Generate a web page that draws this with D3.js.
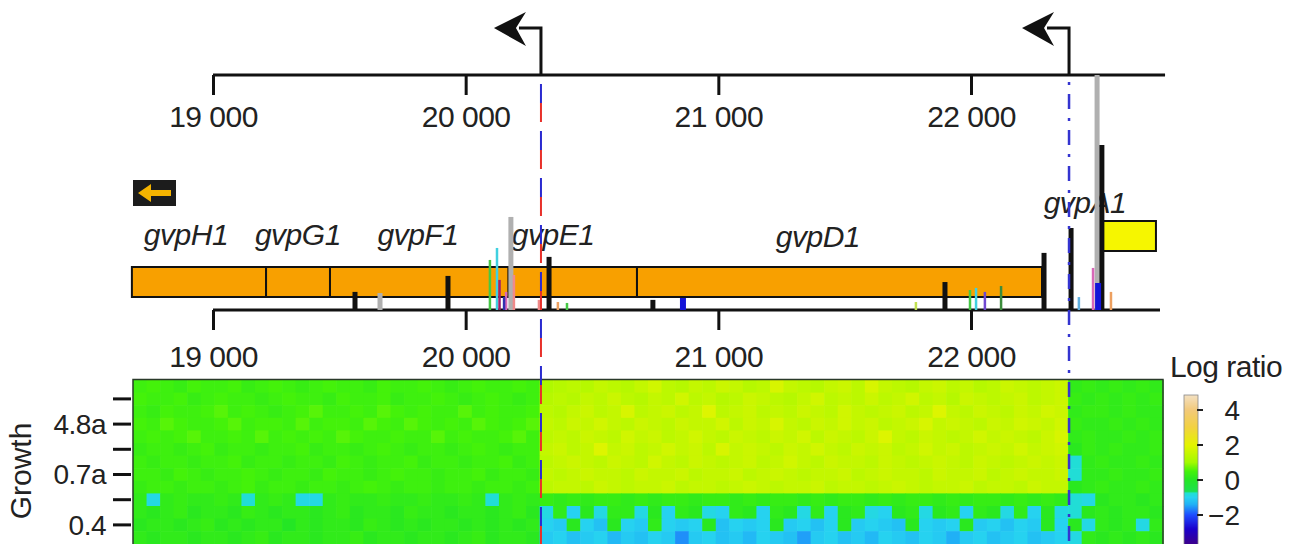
<!DOCTYPE html>
<html>
<head>
<meta charset="utf-8">
<script src="https://cdn.jsdelivr.net/npm/d3@7"></script>
<style>
  body { margin: 0; background: #fff; }
  svg { display: block; font-family: "Liberation Sans", Arial, Helvetica, sans-serif; }
  .axis path, .axis line { stroke: #111; stroke-width: 3; }
  .axis text { font-size: 30px; fill: #222; letter-spacing: -0.5px; }
  .gene-label { font-size: 30px; font-style: italic; fill: #222; letter-spacing: -0.5px; }
</style>
</head>
<body>
<script>
(function() {
  // genome coordinates (bp)
  var axisTicks = [19000, 20000, 21000, 22000];
  var topAxisEnd = 22768, lowAxisEnd = 22748;
  var promoters = [20298, 22388];

  var genes = ['gvpH1', 'gvpG1', 'gvpF1', 'gvpE1', 'gvpD1'];
  var geneStart = [18679, 19210, 19463, 20170, 20678];
  var geneEnd = [19210, 19463, 20170, 20678, 22281];
  var labelPos = [18893, 19336, 19811, 20346, 21394];

  var fwdGene = 'gvpA1';
  var fwdStart = 22522, fwdEnd = 22732, fwdLabelPos = 22451;

  // read-start peaks: position, signal, sample
  var peakPos = [19562, 19661, 19930, 20096, 20124, 20134, 20152, 20160, 20179, 20191, 20290, 20330, 20365, 20401,
    20741, 20860, 21782, 21897, 21996, 22020, 22055, 22119, 22289, 22396, 22427, 22483, 22499, 22503, 22518, 22554];
  var peakVal = [7.7, 7.2, 14.5, 21.3, 26.4, 12.8, 5.5, 7.7, 39.6, 14.9, 4.3, 22.6, 3.4, 3.0,
    4.3, 5.1, 3.4, 11.9, 8.5, 9.4, 7.7, 10.2, 24.3, 34.9, 5.5, 17.9, 100, 11.5, 70.2, 7.7];
  var peakSample = ['S1', 'S2', 'S1', 'S3', 'S4', 'S5', 'S14', 'S6', 'S2', 'S8', 'S8', 'S1', 'S9', 'S3',
    'S1', 'S7', 'S10', 'S1', 'S3', 'S4', 'S11', 'S12', 'S1', 'S1', 'S13', 'S6', 'S2', 'S7', 'S1', 'S9'];
  var samples = ['S1', 'S2', 'S3', 'S4', 'S5', 'S6', 'S7', 'S8', 'S9', 'S10', 'S11', 'S12', 'S13', 'S14'];

  // heatmap: log ratio per growth row (13 rows x 76 columns)
  var growthTicks = [1, 3, 5, 7, 9, 11];
  var growthLabels = ['', '4.8a', '', '0.7a', '', '0.4'];
  var logRatio = [
    [0.4,0.5,0.4,0.3,0.5,0.4,0.4,0.5,0.3,0.4,0.5,0.4,0.3,0.4,0.5,0.4,0.4,0.3,0.5,0.4,0.4,0.5,0.4,0.3,0.4,0.5,0.4,0.4,0.5,0.4,
     1.2,1.3,1.4,1.3,1.5,1.4,1.3,1.5,1.7,1.4,1.3,1.5,1.4,1.6,1.5,1.3,1.4,1.8,1.5,1.4,1.3,1.5,1.6,1.4,1.8,1.5,1.4,1.3,1.5,1.6,1.4,1.5,1.3,1.4,1.6,1.5,1.4,1.5,1.6,
     0.2,0.3,0.2,0.3,0.2,0.3,0.2],
    [0.5,0.4,0.4,0.5,0.3,0.4,0.5,0.4,0.4,0.3,0.4,0.5,0.4,0.4,0.3,0.5,0.4,0.4,0.5,0.3,0.4,0.4,0.5,0.4,0.3,0.4,0.5,0.4,0.3,0.4,
     1.3,1.4,1.3,1.5,1.4,1.6,1.4,1.3,1.5,1.4,1.7,1.4,1.5,1.3,1.4,1.6,1.5,1.4,1.3,1.5,1.7,1.4,1.5,1.4,1.6,1.4,1.5,1.7,1.4,1.5,1.3,1.6,1.5,1.4,1.5,1.6,1.4,1.5,1.6,
     0.3,0.2,0.3,0.2,0.3,0.2,0.3],
    [0.4,0.3,0.5,0.4,0.4,0.5,0.6,0.4,0.5,0.4,0.3,0.4,0.5,0.6,0.4,0.4,0.5,0.4,0.6,0.5,0.4,0.5,0.4,0.4,0.6,0.4,0.5,0.4,0.4,0.5,
     1.4,1.3,1.5,1.6,1.4,1.5,1.8,1.4,1.5,1.6,1.4,1.5,1.9,1.4,1.5,1.6,1.4,1.5,1.4,1.6,1.5,1.4,1.7,1.5,1.4,1.5,1.6,1.4,1.5,1.9,1.5,1.4,1.6,1.5,1.4,1.6,1.5,1.7,1.6,
     0.2,0.3,0.3,0.2,0.3,0.2,0.2],
    [0.5,0.4,0.6,0.5,0.4,0.4,0.5,0.6,0.4,0.5,0.5,0.4,0.6,0.4,0.5,0.5,0.4,0.6,0.5,0.4,0.6,0.5,0.4,0.5,0.4,0.6,0.5,0.4,0.5,0.6,
     1.5,1.4,1.6,1.5,1.7,1.5,1.4,1.6,1.5,1.4,1.6,1.5,1.5,1.7,1.4,1.6,1.5,1.8,1.5,1.4,1.6,1.5,1.7,1.5,1.6,1.4,1.5,1.6,1.8,1.5,1.6,1.5,1.4,1.6,1.5,1.7,1.6,1.5,1.7,
     0.3,0.2,0.2,0.3,0.2,0.3,0.2],
    [0.4,0.5,0.4,0.5,0.6,0.4,0.4,0.5,0.4,0.6,0.4,0.5,0.4,0.5,0.4,0.6,0.5,0.4,0.4,0.5,0.4,0.4,0.6,0.4,0.5,0.4,0.4,0.5,0.6,0.4,
     1.4,1.5,1.4,1.6,1.5,1.4,1.7,1.5,1.6,1.4,1.5,1.7,1.5,1.4,1.6,1.5,1.4,1.6,1.5,1.7,1.4,1.6,1.5,1.4,1.6,1.9,1.5,1.4,1.6,1.5,1.4,1.5,1.7,1.5,1.6,1.5,1.4,1.6,1.8,
     0.2,0.3,0.2,0.2,0.3,0.2,0.3],
    [0.3,0.4,0.4,0.3,0.4,0.5,0.3,0.4,0.4,0.3,0.4,0.4,0.5,0.3,0.4,0.4,0.3,0.4,0.5,0.4,0.3,0.4,0.4,0.3,0.4,0.5,0.4,0.3,0.4,0.4,
     1.5,1.6,1.4,1.5,1.9,1.5,1.6,1.4,1.5,1.7,1.5,1.6,1.4,1.8,1.5,1.6,1.5,1.4,1.6,1.5,1.7,1.5,1.4,1.6,1.5,1.6,1.4,1.5,1.7,1.5,1.6,1.4,1.5,1.6,1.5,1.7,1.5,1.6,1.7,
     0.1,0.3,0.2,0.3,0.2,0.2,0.3],
    [0.4,0.3,0.4,0.4,0.3,0.4,0.4,0.5,0.3,0.4,0.4,0.3,0.4,0.4,0.3,0.5,0.4,0.3,0.4,0.4,0.5,0.3,0.4,0.4,0.3,0.4,0.4,0.5,0.3,0.4,
     1.4,1.5,1.6,1.5,1.4,1.6,1.5,1.4,1.7,1.5,1.4,1.6,1.5,1.4,1.5,1.6,1.4,1.5,1.7,1.5,1.4,1.6,1.5,1.5,1.4,1.6,1.5,1.4,1.5,1.6,1.5,1.4,1.6,1.5,1.4,1.5,1.6,1.5,1.6,
     -0.8,0.2,0.3,0.2,0.2,0.3,0.2],
    [0.4,0.4,0.3,0.5,0.4,0.3,0.4,0.4,0.5,0.4,0.3,0.4,0.4,0.3,0.5,0.4,0.4,0.3,0.4,0.5,0.4,0.4,0.3,0.4,0.4,0.5,0.3,0.4,0.4,0.3,
     1.5,1.4,1.5,1.6,1.5,1.5,1.4,1.6,1.5,1.5,1.6,1.4,1.5,1.5,1.6,1.4,1.5,1.6,1.5,1.4,1.5,1.5,1.6,1.4,1.5,1.6,1.5,1.5,1.4,1.6,1.5,1.5,1.6,1.4,1.5,1.6,1.5,1.5,1.6,
     -0.8,0.2,0.2,0.3,0.2,0.2,0.3],
    [0.3,0.4,0.4,0.3,0.4,0.4,0.3,0.4,0.5,0.3,0.4,0.4,0.3,0.4,0.4,0.3,0.4,0.5,0.4,0.3,0.4,0.4,0.3,0.4,0.4,0.3,0.4,0.4,0.3,0.4,
     1.4,1.5,1.5,1.4,1.6,1.5,1.4,1.5,1.5,1.6,1.4,1.5,1.5,1.4,1.5,1.6,1.5,1.4,1.5,1.5,1.6,1.4,1.5,1.5,1.4,1.5,1.6,1.5,1.4,1.5,1.5,1.6,1.4,1.5,1.5,1.4,1.6,1.5,1.5,
     0.1,0.2,0.3,0.2,0.2,0.3,0.2],
    [0.2,-0.9,0.2,0.3,0.2,0.2,0.3,0.2,-0.8,0.2,0.3,0.2,-0.9,-0.9,0.2,0.3,0.2,0.2,0.3,0.2,0.2,0.3,0.2,0.2,0.3,0.2,-0.8,0.2,0.3,0.2,
     0.3,0.2,0.3,0.2,0.3,0.3,0.2,0.3,0.2,0.3,0.3,0.2,0.3,0.3,0.2,0.3,0.2,0.3,0.3,0.2,0.3,0.2,0.3,0.3,0.2,0.3,0.2,0.3,0.3,0.2,0.3,0.2,0.3,0.3,0.2,0.3,0.2,0.3,0.2,
     -0.8,-0.9,0.1,0.2,0.2,0.1,0.2],
    [0.2,0.1,0.2,0.3,0.1,0.2,0.2,0.1,0.3,0.2,0.1,0.2,0.2,0.1,0.2,0.3,0.1,0.2,0.2,0.1,0.3,0.2,0.2,0.1,0.2,0.2,0.1,0.2,0.3,0.1,
     -0.9,0.2,-1.0,0.1,-0.9,0.2,0.2,-0.9,0.1,-1.0,0.2,0.1,-0.9,-1.0,0.2,0.1,-1.0,0.2,0.1,-0.9,0.2,-1.0,0.1,0.2,-0.9,-1.0,0.1,0.2,-0.9,0.1,0.2,-1.0,0.2,0.1,-0.9,0.2,-1.0,0.1,-0.9,
     -0.8,0.1,0.2,0.1,0.2,0.2,0.1],
    [0.1,0.2,0.2,0.1,0.2,0.3,0.1,0.2,0.1,0.2,0.2,0.0,0.2,0.1,0.2,0.2,0.1,0.3,0.2,0.1,0.2,0.1,0.2,0.2,0.1,0.2,0.1,0.2,0.1,0.2,
     -1.0,-1.1,0.1,-1.0,-1.2,0.1,-1.0,-1.1,0.2,-1.0,-1.1,-1.0,0.1,-1.2,-1.0,-1.1,-1.0,0.1,-1.1,-1.0,-1.2,-1.0,0.1,-1.1,-1.0,-1.1,-1.2,0.1,-1.0,-1.1,-1.0,0.1,-1.1,-1.0,-1.2,-1.0,-1.1,0.1,-1.0,
     0.1,-0.9,0.2,0.1,0.2,-0.9,0.2],
    [0.2,0.1,0.2,0.2,0.1,0.2,0.2,0.1,0.2,0.3,0.1,0.2,0.2,0.1,0.2,0.2,0.3,0.1,0.2,0.2,0.1,0.2,0.2,0.1,0.2,0.3,0.1,0.2,0.2,0.1,
     -1.1,-1.0,-1.2,-1.1,-1.0,-1.3,-1.1,-1.2,-1.0,-1.1,-1.6,-1.1,-1.0,-1.2,-1.1,-1.3,-1.0,-1.1,-1.2,-1.5,-1.1,-1.0,-1.2,-1.1,-1.3,-1.0,-1.1,-1.2,-1.0,-1.1,-1.4,-1.1,-1.0,-1.2,-1.1,-1.0,-1.2,-1.1,-1.0,
     -0.9,0.2,0.1,0.2,0.1,0.2,0.1]
  ];
  var legendTicks = [4, 2, 0, -2];

  var W = 1293, H = 544;
  var svg = d3.select('body').append('svg').attr('width', W).attr('height', H);

  var x = d3.scaleLinear().domain([19000, 22000]).range([213, 971]);
  var ySig = d3.scaleLinear().domain([0, 100]).range([310, 75]);
  var fmt = d3.formatLocale({ decimal: '.', thousands: ' ', grouping: [3], currency: ['', ''] }).format(',');

  var color = d3.scaleLinear()
    .domain([-3.6, -2.8, -2, -1.4, -1.0, -0.75, -0.65, 0, 0.5, 1, 2, 3, 4, 4.9])
    .range(['#3a0090', '#1a00cc', '#1e4cff', '#20b0f6', '#26d2f0', '#20e0d0', '#1ce050', '#24e624', '#44f20a', '#a2fa00',
      '#e4f400', '#f2d240', '#f2c97a', '#f3e2c6'])
    .clamp(true);

  var sampleColor = d3.scaleOrdinal().domain(samples)
    .range(['#111', '#b0b0b0', '#45c845', '#40d0e0', '#a0206a', '#d868b8', '#1414d8', '#f08a8a', '#eda060',
      '#c0e050', '#7048d0', '#3c8c3c', '#60b0e0', '#3030b0']);
  var sampleWidth = { S1: 5, S2: 5, S7: 6 };

  // heatmap
  var nCols = logRatio[0].length;
  var hx = d3.scaleBand().domain(d3.range(nCols)).range([133, 1163]);
  var hy = d3.scaleBand().domain(d3.range(logRatio.length)).range([380, 543.8]);
  var heat = svg.append('g');
  logRatio.forEach(function(row, r) {
    heat.selectAll('rect.r' + r).data(row).enter().append('rect')
      .attr('x', function(d, c) { return hx(c); })
      .attr('y', hy(r))
      .attr('width', hx.bandwidth() + 0.6)
      .attr('height', hy.bandwidth() + 0.6)
      .attr('fill', function(d) { return color(d); });
  });
  heat.append('rect').attr('x', 133).attr('y', 379.5).attr('width', 1030).attr('height', 180)
    .attr('fill', 'none').attr('stroke', '#2a3a2a').attr('stroke-width', 1.5);

  var gy = svg.append('g').attr('class', 'axis');
  gy.selectAll('line').data(growthTicks).enter().append('line')
    .attr('x1', 113).attr('x2', 131)
    .attr('y1', function(d) { return hy(d) + hy.bandwidth() / 2; })
    .attr('y2', function(d) { return hy(d) + hy.bandwidth() / 2; });
  gy.selectAll('text').data(growthTicks).enter().append('text')
    .attr('x', 106).attr('y', function(d) { return hy(d) + hy.bandwidth() / 2; })
    .attr('dy', '0.35em').attr('text-anchor', 'end').style('font-size', '28px')
    .text(function(d, i) { return growthLabels[i]; });
  svg.append('text').attr('transform', 'translate(31,471) rotate(-90)')
    .attr('text-anchor', 'middle').style('font-size', '30px').attr('fill', '#222').text('Growth');

  // axes
  var topAxis = svg.append('g').attr('class', 'axis').attr('transform', 'translate(0,75)')
    .call(d3.axisBottom(x).tickValues(axisTicks).tickFormat(fmt).tickSize(20).tickSizeOuter(0).tickPadding(11));
  topAxis.select('.domain').attr('d', 'M' + x(19000) + ',0H' + x(topAxisEnd));
  var lowAxis = svg.append('g').attr('class', 'axis').attr('transform', 'translate(0,310)')
    .call(d3.axisBottom(x).tickValues(axisTicks).tickFormat(fmt).tickSize(20).tickSizeOuter(0).tickPadding(16));
  lowAxis.select('.domain').attr('d', 'M' + x(19000) + ',0H' + x(lowAxisEnd));
  svg.selectAll('.axis text').attr('font-family', null).attr('font-size', null);

  // promoter arrows
  var prom = svg.append('g').selectAll('g').data(promoters).enter().append('g');
  prom.append('path')
    .attr('d', function(d) { return 'M' + x(d) + ',75V28H' + (x(d) - 22); })
    .attr('fill', 'none').attr('stroke', '#111').attr('stroke-width', 3);
  prom.append('path')
    .attr('d', function(d) {
      var p = x(d);
      return 'M' + (p - 47) + ',28L' + (p - 15) + ',12L' + (p - 25) + ',28L' + (p - 15) + ',46Z';
    })
    .attr('fill', '#111');

  // strand legend box
  svg.append('rect').attr('x', 133).attr('y', 180).attr('width', 43).attr('height', 26).attr('fill', '#1c1c1c');
  svg.append('path').attr('d', 'M138,193L151,184L151,190L171,190L171,196L151,196L151,202Z').attr('fill', '#f5b400');

  // genes
  var gg = svg.append('g');
  gg.selectAll('rect').data(genes).enter().append('rect')
    .attr('x', function(d, i) { return x(geneStart[i]); })
    .attr('width', function(d, i) { return x(geneEnd[i]) - x(geneStart[i]); })
    .attr('y', 267).attr('height', 30)
    .attr('fill', '#f8a000').attr('stroke', '#111').attr('stroke-width', 2);
  gg.selectAll('text').data(genes).enter().append('text').attr('class', 'gene-label')
    .attr('x', function(d, i) { return x(labelPos[i]); })
    .attr('y', function(d, i) { return i === 4 ? 247 : 245; })
    .attr('text-anchor', 'middle').text(function(d) { return d; });
  svg.append('rect').attr('x', x(fwdStart)).attr('width', x(fwdEnd) - x(fwdStart))
    .attr('y', 221).attr('height', 30).attr('fill', '#f6f600').attr('stroke', '#111').attr('stroke-width', 2);
  svg.append('text').attr('class', 'gene-label').attr('x', x(fwdLabelPos)).attr('y', 213)
    .attr('text-anchor', 'middle').text(fwdGene);

  // peaks
  var order = d3.range(peakPos.length).sort(function(a, b) { return peakVal[b] - peakVal[a]; });
  svg.append('g').selectAll('line').data(order).enter().append('line')
    .attr('x1', function(i) { return x(peakPos[i]); })
    .attr('x2', function(i) { return x(peakPos[i]); })
    .attr('y1', ySig(0))
    .attr('y2', function(i) { return ySig(peakVal[i]); })
    .attr('stroke', function(i) { return sampleColor(peakSample[i]); })
    .attr('stroke-width', function(i) { return sampleWidth[peakSample[i]] || 2.5; });

  // TSS guide lines
  var p1 = x(promoters[0]), p2 = x(promoters[1]);
  svg.append('line').attr('x1', p1).attr('x2', p1).attr('y1', 84).attr('y2', H)
    .attr('stroke', '#e8302a').attr('stroke-width', 2).attr('stroke-dasharray', '19 28').attr('stroke-dashoffset', -19);
  svg.append('line').attr('x1', p1).attr('x2', p1).attr('y1', 84).attr('y2', H)
    .attr('stroke', '#2a2ad0').attr('stroke-width', 2).attr('stroke-dasharray', '19 28');
  svg.append('line').attr('x1', p2).attr('x2', p2).attr('y1', 82).attr('y2', H)
    .attr('stroke', '#3434d0').attr('stroke-width', 2.5).attr('stroke-dasharray', '3 9 15 9');

  // legend
  var ly = d3.scaleLinear().domain([-2, 4]).range([515, 410]);
  var lg = svg.append('g');
  lg.selectAll('rect').data(d3.range(395, H)).enter().append('rect')
    .attr('x', 1184).attr('y', function(d) { return d; }).attr('width', 14).attr('height', 1.2)
    .attr('fill', function(d) { return color(ly.invert(d + 0.5)); });
  lg.append('rect').attr('x', 1184).attr('y', 395).attr('width', 14).attr('height', 160)
    .attr('fill', 'none').attr('stroke', '#888').attr('stroke-width', 0.8);
  lg.selectAll('line').data(legendTicks).enter().append('line')
    .attr('x1', 1197).attr('x2', 1203).attr('y1', function(d) { return ly(d); }).attr('y2', function(d) { return ly(d); })
    .attr('stroke', '#222').attr('stroke-width', 2);
  lg.selectAll('text').data(legendTicks).enter().append('text')
    .attr('x', 1240).attr('y', function(d) { return ly(d); }).attr('dy', '0.35em')
    .attr('text-anchor', 'end').style('font-size', '28px').attr('fill', '#222')
    .text(function(d) { return d < 0 ? '\u2212' + Math.abs(d) : d; });
  lg.append('text').attr('x', 1226).attr('y', 377).attr('text-anchor', 'middle')
    .style('font-size', '30px').attr('fill', '#222').style('letter-spacing', '-0.5px').text('Log ratio');
})();
</script>
</body>
</html>
